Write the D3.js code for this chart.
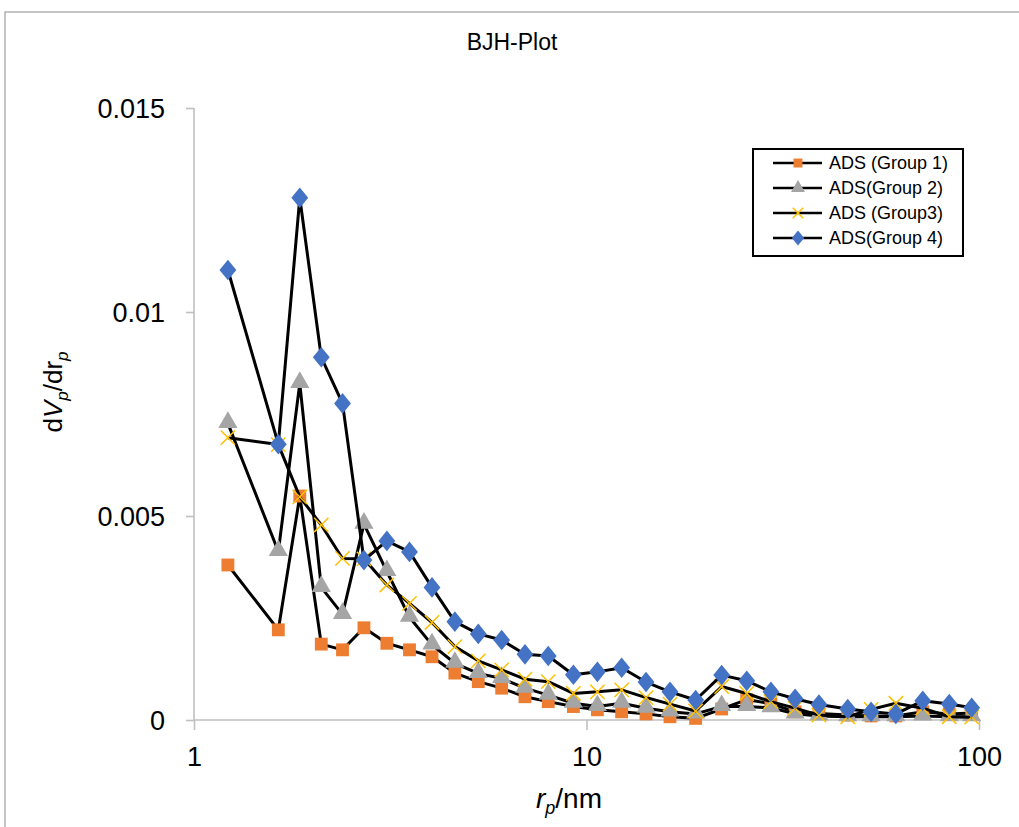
<!DOCTYPE html>
<html>
<head>
<meta charset="utf-8">
<script src="https://cdn.jsdelivr.net/npm/d3@7"></script>
<style>
  html, body { margin: 0; padding: 0; background: #fff; }
  svg { display: block; font-family: "Liberation Sans", Arial, sans-serif; }
</style>
</head>
<body>
<svg id="chart" width="1019" height="827"></svg>
<script>
// ---- data ----
const radius = [1.22,1.64,1.86,2.11,2.39,2.71,3.10,3.54,4.04,4.62,5.30,6.08,6.97,7.99,9.26,10.66,12.29,14.18,16.32,18.97,22.1,25.6,29.5,34.0,39.1,46.3,53.1,61.4,71.9,84.0,95.8];
const group1 = [0.00380,0.00221,0.00549,0.00186,0.00172,0.00226,0.00188,0.00172,0.00155,0.00115,0.00094,0.00078,0.00057,0.00045,0.00033,0.00025,0.00020,0.00015,0.00008,0.00004,0.00027,0.00050,0.00040,0.00020,0.00016,0.00012,0.00010,0.00010,0.00020,0.00015,0.00017];
const group2 = [0.00727,0.00413,0.00825,0.00325,0.00259,0.00480,0.00364,0.00252,0.00184,0.00139,0.00114,0.00102,0.00078,0.00061,0.00041,0.00033,0.00041,0.00029,0.00020,0.00015,0.00033,0.00033,0.00030,0.00015,0.00010,0.00008,0.00008,0.00008,0.00010,0.00008,0.00008];
const group3 = [0.00692,0.00675,0.00547,0.00478,0.00396,0.00395,0.00331,0.00286,0.00239,0.00180,0.00145,0.00123,0.00100,0.00094,0.00065,0.00069,0.00074,0.00055,0.00039,0.00022,0.00082,0.00065,0.00045,0.00029,0.00012,0.00008,0.00026,0.00041,0.00029,0.00008,0.00007];
const group4 = [0.01103,0.00676,0.01280,0.00889,0.00776,0.00392,0.00439,0.00412,0.00325,0.00241,0.00211,0.00196,0.00161,0.00157,0.00111,0.00118,0.00128,0.00093,0.00069,0.00049,0.00110,0.00096,0.00069,0.00052,0.00038,0.00027,0.00020,0.00015,0.00047,0.00039,0.00030];
const seriesNames = ["ADS (Group 1)", "ADS(Group 2)", "ADS (Group3)", "ADS(Group 4)"];
const xTicks = [1, 10, 100];
const yTicks = [0, 0.005, 0.01, 0.015];
const yTickLabels = ["0", "0.005", "0.01", "0.015"];

// ---- layout ----
const svg = d3.select("#chart");
const x = d3.scaleLog().domain([1, 100]).range([194, 979]);
const y = d3.scaleLinear().domain([0, 0.015]).range([720, 108]);

// outer border
svg.append("rect").attr("x", 5).attr("y", 12).attr("width", 1030).attr("height", 840)
  .attr("fill", "none").attr("stroke", "#a6a6a6").attr("stroke-width", 1.3);

// title
svg.append("text").attr("x", 512).attr("y", 50).attr("text-anchor", "middle")
  .attr("font-size", 23).attr("fill", "#000").text("BJH-Plot");

// axes
const axisColor = "#bfbfbf";
const yAxis = svg.append("g").attr("transform", "translate(194,0)")
  .call(d3.axisLeft(y).tickValues(yTicks).tickSize(8).tickPadding(21)
    .tickFormat((d, i) => yTickLabels[i]));
const xAxis = svg.append("g").attr("transform", "translate(0,720)")
  .call(d3.axisBottom(x).tickValues(xTicks).tickSize(10).tickPadding(17)
    .tickFormat(d3.format("d")));
[yAxis, xAxis].forEach(g => {
  g.select(".domain").attr("stroke", axisColor).attr("stroke-width", 1.6);
  g.selectAll(".tick line").attr("stroke", axisColor).attr("stroke-width", 1.6);
  g.selectAll(".tick text").attr("fill", "#000").attr("font-size", 27)
    .attr("font-family", "'Liberation Sans', Arial, sans-serif");
});
yAxis.select(".domain").attr("d", "M0,108V720");
xAxis.select(".domain").attr("d", "M194,0H979");
yAxis.selectAll(".tick text").attr("dy", "0.35em");

// axis titles
const xt = svg.append("text").attr("x", 569).attr("y", 808).attr("text-anchor", "middle")
  .attr("font-size", 28).attr("fill", "#000");
xt.append("tspan").attr("font-style", "italic").text("r");
xt.append("tspan").attr("font-style", "italic").attr("font-size", 18).attr("dy", 6).text("p");
xt.append("tspan").attr("dy", -6).text("/nm");

const yt = svg.append("text").attr("transform", "translate(62,392) rotate(-90)")
  .attr("text-anchor", "middle").attr("font-size", 26).attr("fill", "#000");
yt.append("tspan").text("d");
yt.append("tspan").attr("font-style", "italic").text("V");
yt.append("tspan").attr("font-style", "italic").attr("font-size", 17).attr("dy", 6).text("p");
yt.append("tspan").attr("dy", -6).text("/dr");
yt.append("tspan").attr("font-style", "italic").attr("font-size", 17).attr("dy", 6).text("p");

// ---- series ----
const groups = [group1, group2, group3, group4];
const colors = ["#ED7D31", "#A5A5A5", "#FFC000", "#4472C4"];
const symbols = [d3.symbolSquare, d3.symbolTriangle, d3.symbolX, d3.symbolDiamond];
const sizes = [165, 160, 150, 170];
const legendSizes = [80, 85, 80, 90];

function drawMarker(sel, i, size) {
  if (i === 2) {
    sel.attr("d", d3.symbol().type(d3.symbolX).size(size * 0.9)())
      .attr("fill", "none").attr("stroke", colors[i]).attr("stroke-width", 1.5);
  } else {
    let s = d3.symbol().type(symbols[i]).size(size)();
    sel.attr("d", s).attr("fill", colors[i]).attr("stroke", "none");
  }
}

const line = d3.line().x(d => x(d[0])).y(d => y(d[1]));
groups.forEach((vals, i) => {
  const pts = radius.map((r, k) => [r, vals[k]]);
  const g = svg.append("g").attr("class", "series");
  g.append("path").attr("d", line(pts)).attr("fill", "none")
    .attr("stroke", "#000").attr("stroke-width", 3).attr("stroke-linejoin", "round");
  g.selectAll("path.m").data(pts).enter().append("path").attr("class", "m")
    .attr("transform", d => {
      const dy = i === 1 ? -1 : 0;
      return `translate(${x(d[0])},${y(d[1]) + dy})` + (i === 3 ? " scale(1.2,0.85)" : "");
    })
    .each(function() { drawMarker(d3.select(this), i, sizes[i]); });
});

// ---- legend ----
const lg = svg.append("g");
lg.append("rect").attr("x", 753).attr("y", 149).attr("width", 210).attr("height", 107)
  .attr("fill", "#fff").attr("stroke", "#000").attr("stroke-width", 2);
seriesNames.forEach((name, i) => {
  const cy = 163 + i * 25;
  lg.append("line").attr("x1", 773).attr("x2", 822).attr("y1", cy).attr("y2", cy)
    .attr("stroke", "#000").attr("stroke-width", 2.5);
  lg.append("path").attr("transform", `translate(798,${cy})` + (i === 3 ? " scale(1.2,0.85)" : ""))
    .each(function() { drawMarker(d3.select(this), i, legendSizes[i]); });
  lg.append("text").attr("x", 829).attr("y", cy).attr("dy", "0.35em")
    .attr("font-size", 18).attr("fill", "#000").text(name);
});
</script>
</body>
</html>
